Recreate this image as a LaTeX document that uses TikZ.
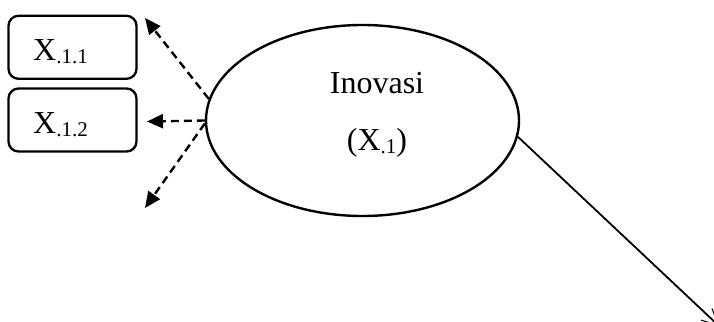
\documentclass[tikz,border=0pt]{standalone}
\usepackage{fontspec}
\setmainfont{Liberation Serif}
\usetikzlibrary{shapes.geometric,arrows.meta}
\newcommand{\subtx}[1]{\raisebox{-3pt}{\fontsize{21}{21}\selectfont #1}}
\begin{document}
\begin{tikzpicture}[x=1pt,y=-1pt,
  every node/.style={font=\fontsize{32}{32}\selectfont},
  boxnode/.style={draw,line width=2.3pt,rounded corners=10pt,minimum width=128pt,minimum height=63pt,inner sep=0pt},
  ellnode/.style={draw,line width=2.4pt,ellipse,minimum width=313pt,minimum height=191pt,inner sep=0pt},
  txt/.style={inner sep=0pt,anchor=base},
  dasharrow/.style={line width=2.4pt,dash pattern=on 8pt off 5pt,-{Triangle[length=16pt,width=14pt]}},
  mainarrow/.style={line width=1.8pt,-{Straight Barb[length=16pt,width=16pt,line width=1pt]}}]
\useasboundingbox (0,0) rectangle (714,321);
\clip (0,0) rectangle (714,321);
\node[boxnode] (b1) at (72.5,47.3) {};
\node[boxnode] (b2) at (72.5,120) {};
\node[txt,anchor=base west] (t1) at (33,60) {X\subtx{.1.1}};
\node[txt,anchor=base west] (t2) at (33,133) {X\subtx{.1.2}};
\node[ellnode] (ell) at (362.5,120.5) {};
\node[txt] (inov) at (377,93) {Inovasi};
\node[txt] (x1) at (377,150) {(X\subtx{.1})};
\coordinate (a1) at (145,18);
\coordinate (a2) at (147,121.5);
\coordinate (a3) at (145,208);
\coordinate (a4) at (719,326);
\draw[dasharrow] (ell.172) -- (a1);
\draw[dasharrow] (ell.west) -- (a2);
\draw[dasharrow] (ell.west) ++(0,3) -- (a3);
\draw[mainarrow] (ell.-6) -- (a4);
\end{tikzpicture}
\end{document}
